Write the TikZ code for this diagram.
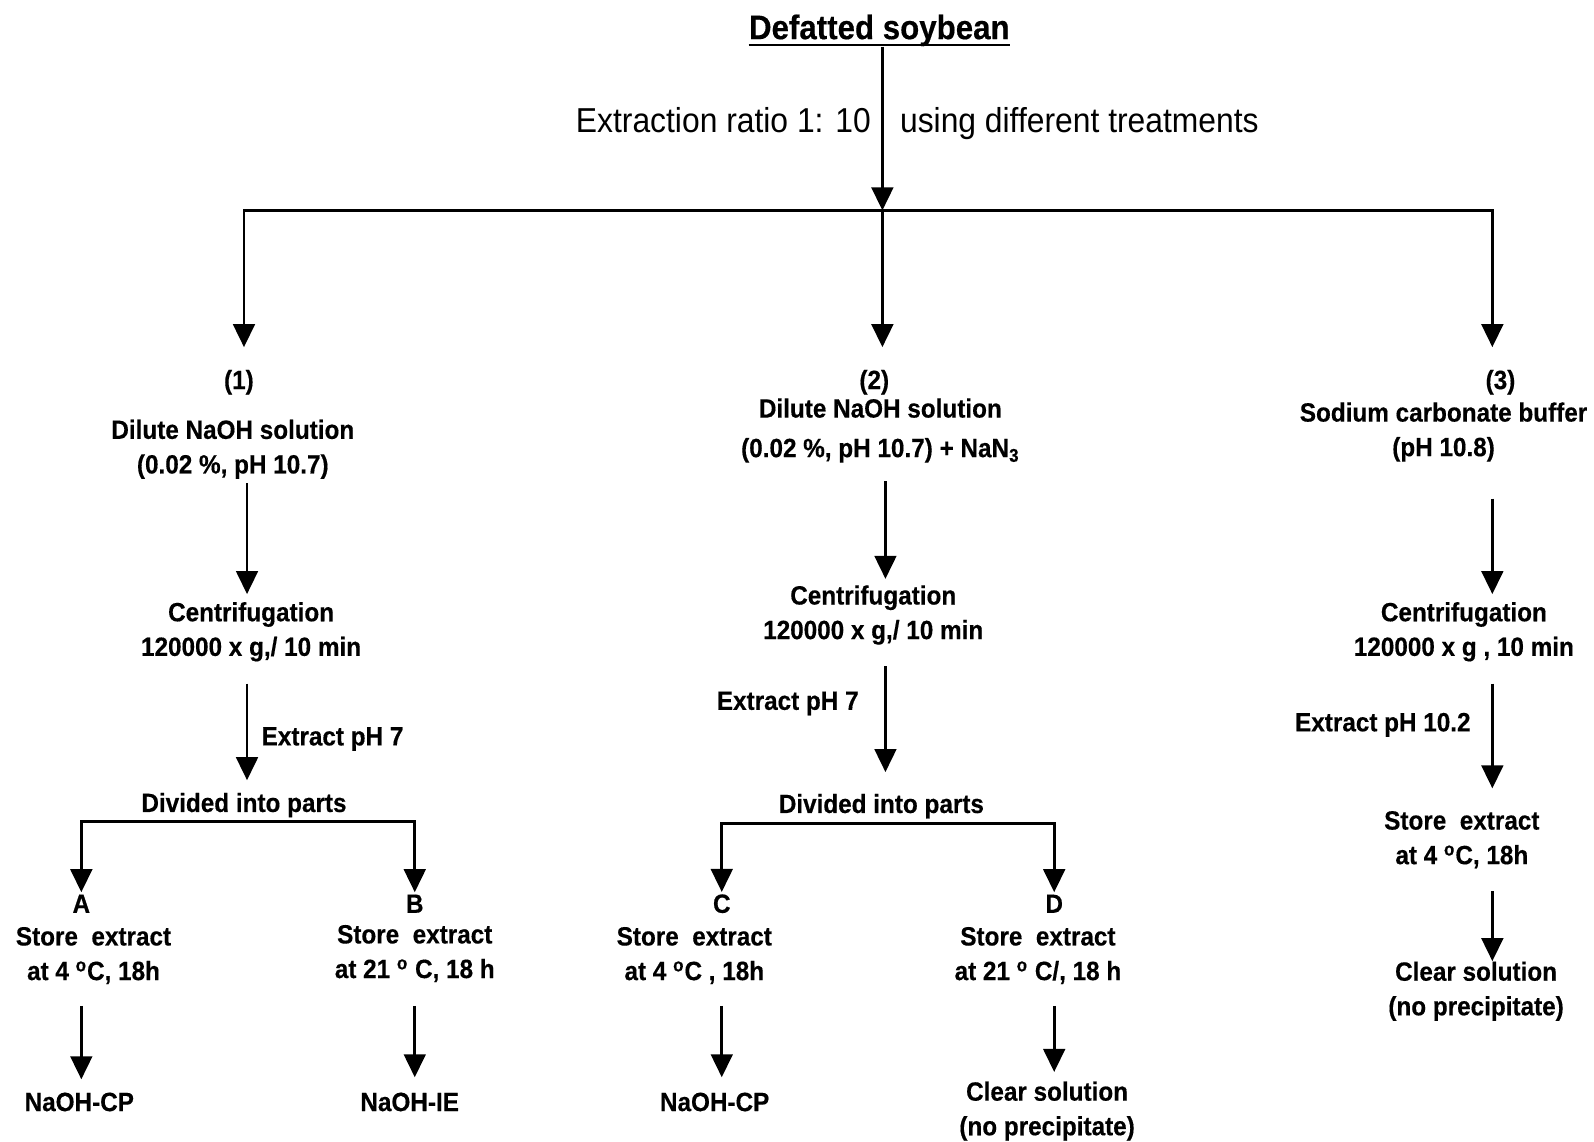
\documentclass[tikz,border=0pt]{standalone}
\usepackage{fontspec}
\setmainfont{Liberation Sans}[FakeStretch=0.92, BoldFeatures={FakeBold=0.4}]
\usetikzlibrary{arrows.meta}
\newlength{\pxu}\setlength{\pxu}{0.5083pt}
\begin{document}
\begin{tikzpicture}[x=0.5083pt,y=-0.5083pt,
  txt/.style={font=\fontsize{13.2}{17.3}\selectfont\bfseries, align=center, inner sep=0pt},
  big/.style={font=\fontsize{17.3}{20}\selectfont, inner sep=0pt},
  ttl/.style={font=\fontsize{17}{20}\selectfont\bfseries, inner sep=0pt},
  ln/.style={line width=1.45pt},
  arr/.style={ln, -{Triangle[width=10.8pt,length=11.5pt]}},
  arr2/.style={ln, {Triangle[width=10.8pt,length=11.5pt]}-{Triangle[width=10.8pt,length=11.5pt]}}]
\useasboundingbox (0,0) rectangle (1568,1123);
% top
\node[ttl, anchor=base] (top) at (865,38.5) {Defatted soybean};
\draw[line width=1.2pt] ([yshift=-2.8pt]top.base west) -- ([yshift=-2.8pt]top.base east);
\node[big, anchor=base east] (ex1) at (857,130) {Extraction ratio 1: 10};
\node[big, anchor=base west] (ex2) at (885,130) {using different treatments};
\coordinate (bar) at (868,207);
\coordinate (barL) at (240,207);
\coordinate (barR) at (1468,207);
\coordinate (k1) at (243,0);
\coordinate (k2) at (871,0);
\coordinate (k3) at (1468,0);
% column 1
\node[txt] (n1) at (235,376) {(1)};
\node[txt] (s1) at (229,442) {Dilute NaOH solution\\(0.02 \%, pH 10.7)};
\node[txt] (c1) at (247,621.5) {Centrifugation\\120000 x g,/ 10 min};
\node[txt, anchor=west] (x1) at (257,727) {Extract pH 7};
\node[txt] (d1) at (240,792) {Divided into parts};
\node[txt] (la) at (80,889) {A};
\node[txt] (lb) at (408,889) {B};
\node[txt] (a1) at (92,940) {Store\ \ extract\\at 4 \textsuperscript{o}C, 18h};
\node[txt] (b1) at (408,938) {Store\ \ extract\\at 21 \textsuperscript{o} C, 18 h};
\node[txt] (ra) at (78,1084) {NaOH-CP};
\node[txt] (rb) at (403,1084) {NaOH-IE};
% column 2
\node[txt] (n2) at (860,376) {(2)};
\node[txt] (s2) at (866,423.5) {Dilute NaOH solution\\[2.5pt](0.02 \%, pH 10.7) + NaN\textsubscript{3}};
\node[txt] (c2) at (859,605) {Centrifugation\\120000 x g,/ 10 min};
\node[txt, anchor=east] (x2) at (845,692) {Extract pH 7};
\node[txt] (d2) at (867,793) {Divided into parts};
\node[txt] (lc) at (710,889) {C};
\node[txt] (ld) at (1037,889) {D};
\node[txt] (c2s) at (683,940) {Store\ \ extract\\at 4 \textsuperscript{o}C , 18h};
\node[txt] (d2s) at (1021,940) {Store\ \ extract\\at 21 \textsuperscript{o} C/, 18 h};
\node[txt] (rc) at (703,1084) {NaOH-CP};
\node[txt] (rd) at (1030,1093) {Clear solution\\(no precipitate)};
% column 3
\node[txt] (n3) at (1476,376) {(3)};
\node[txt] (s3) at (1420,425) {Sodium carbonate buffer\\(pH 10.8)};
\node[txt] (c3) at (1440,621.5) {Centrifugation\\120000 x g , 10 min};
\node[txt, anchor=east] (x3) at (1447,713) {Extract pH 10.2};
\node[txt] (st3) at (1438,826) {Store\ \ extract\\at 4 \textsuperscript{o}C, 18h};
\node[txt] (r3) at (1452,975) {Clear solution\\(no precipitate)};
% connectors
\draw[arr] (top.south -| bar) -- (bar);
\draw[arr2, shorten <=22*\pxu, shorten >=22*\pxu] (n1.north -| barL) |- (bar) -| (n3.north -| barR);
\draw[arr, shorten >=22*\pxu] (bar) -- (n2.north -| bar);
% col 1
\draw[arr, shorten <=4*\pxu, shorten >=7.5*\pxu] (s1.south -| k1) -- (c1.north -| k1);
\draw[arr, shorten <=21.5*\pxu, shorten >=12*\pxu] (c1.south -| k1) -- (d1.north -| k1);
\coordinate (br1) at (240,808);
\draw[arr2, shorten <=2*\pxu, shorten >=2*\pxu] (la.north) |- (br1) -| (lb.north);
\draw[arr, shorten <=21*\pxu, shorten >=12.7*\pxu] (a1.south -| la) -- (ra.north -| la);
\draw[arr, shorten <=23*\pxu, shorten >=14.7*\pxu] (b1.south -| lb) -- (rb.north -| lb);
% col 2
\draw[arr, shorten <=18*\pxu, shorten >=6*\pxu] (s2.south -| k2) -- (c2.north -| k2);
\draw[arr, shorten <=21*\pxu, shorten >=21*\pxu] (c2.south -| k2) -- (d2.north -| k2);
\coordinate (br2) at (868,810);
\draw[arr2, shorten <=2*\pxu, shorten >=2*\pxu] (lc.north) |- (br2) -| (ld.north);
\draw[arr, shorten <=21*\pxu, shorten >=14.7*\pxu] (c2s.south -| lc) -- (rc.north -| lc);
\draw[arr, shorten <=21*\pxu, shorten >=9*\pxu] (d2s.south -| ld) -- (rd.north -| ld);
% col 3
\draw[arr, shorten <=36*\pxu, shorten >=7.5*\pxu] (s3.south -| k3) -- (c3.north -| k3);
\draw[arr, shorten <=21.5*\pxu, shorten >=22*\pxu] (c3.south -| k3) -- (st3.north -| k3);
\draw[arr, shorten <=22*\pxu, shorten >=0pt] (st3.south -| k3) -- (r3.north -| k3);
\end{tikzpicture}
\end{document}
